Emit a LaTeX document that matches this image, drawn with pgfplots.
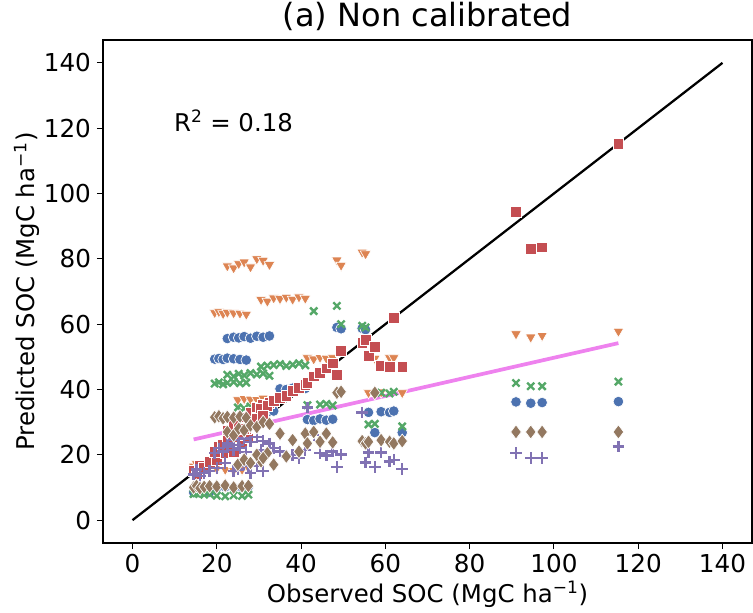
\documentclass[border=0pt]{standalone}
\usepackage{pgfplots}
\pgfplotsset{compat=1.18}
\usepackage{fontspec}
\setmainfont{DejaVu Sans}
\definecolor{sbblue}{RGB}{76,114,176}
\definecolor{sborange}{RGB}{221,132,82}
\definecolor{sbgreen}{RGB}{85,168,104}
\definecolor{sbred}{RGB}{196,78,82}
\definecolor{sbpurple}{RGB}{129,114,179}
\definecolor{sbbrown}{RGB}{147,120,96}
\definecolor{regviolet}{RGB}{238,130,238}
\begin{document}
\begin{tikzpicture}
\begin{axis}[
  width=486.75pt, height=377.25pt, scale only axis,
  xmin=-7, xmax=147, ymin=-7, ymax=147,
  xtick={0,20,...,140}, ytick={0,20,...,140},
  tick align=outside, xtick pos=bottom, ytick pos=left,
  major tick length=4.5pt,
  tick style={black, line width=0.8pt},
  axis line style={line width=0.8pt},
  /pgf/number format/assume math mode=true,
  ticklabel style={font=\fontsize{18.5}{18.5}\selectfont},
  xticklabel style={yshift=0pt},
  yticklabel style={xshift=-1pt},
  xlabel={Observed SOC (MgC ha\textsuperscript{\char"2212 1})},
  ylabel={Predicted SOC (MgC ha\textsuperscript{\char"2212 1})},
  label style={font=\fontsize{18.3}{18.3}\selectfont},
  xlabel style={at={(axis description cs:0.5,-0.076)}, anchor=north, inner sep=0pt},
  ylabel style={at={(axis description cs:-0.097,0.5)}, anchor=south, inner sep=0pt},
  title={(a) Non calibrated},
  title style={font=\fontsize{24}{24}\selectfont, at={(axis description cs:0.5,1.003)}, anchor=south, inner sep=0pt},
  every axis plot/.append style={only marks},
]
% blue circles
\addplot[mark=*, mark size=4pt, mark options={draw=white, fill=sbblue, line width=0.5pt}] coordinates {
(14.5,8.5)(15.2,8.8)(16.0,8.5)(17.0,8.7)(18.3,8.6)
(20,10)(22,10.2)(24,9.9)(26,10.1)(27.5,10.3)
(19.5,49.3)(20.5,49.5)(21.5,49.2)(22.5,49.6)(24.0,49.4)(25.5,49.2)(27.0,49.0)
(22.5,55.6)(24.0,56.0)(25.2,55.8)(26.5,56.2)(28.0,55.7)(29.5,56.3)(31.0,56.0)(32.5,56.4)
(30.5,33.5)(32.0,33.0)(33.5,33.4)(35.0,40.2)(36.5,40.0)(38.0,40.4)(39.5,40.1)(41.0,40.3)
(25.0,29.5)(26.5,29.8)(28.0,30.0)(29.5,29.6)(31.0,30.2)
(41.5,30.8)(43.0,30.5)(44.5,31.0)(46.0,30.6)(47.5,30.9)
(48.5,59.0)(49.5,58.6)
(54.5,58.7)(55.3,58.3)
(56.0,33.0)(57.5,26.8)(59.0,33.2)(61.0,33.0)(62.0,33.4)(64.0,26.8)
(91.0,36.2)(94.5,35.8)(97.2,36.0)
(115.3,36.3)
};
% orange down triangles
\addplot[mark=triangle*, mark size=4.6pt, mark options={rotate=180, draw=white, fill=sborange, line width=0.5pt}] coordinates {
(14.5,16.5)(15.2,17.2)(16.0,16.0)(17.0,16.8)(18.3,17.5)
(20,15.8)(22,15.5)(24,15.2)(26,15.5)(27.5,16.0)
(19.5,63.5)(20.5,63.8)(21.5,63.2)(22.5,63.6)(24.0,63.4)(25.5,63.3)(27.0,63.0)
(22.5,77.8)(24.0,77.2)(25.2,78.5)(26.5,79.0)(28.0,77.5)(29.5,80.0)(31.0,79.5)(32.5,78.2)
(30.5,67.5)(32.0,67.0)(33.5,68.0)(35.0,67.8)(36.5,68.2)(38.0,67.6)(39.5,68.3)(41.0,67.9)
(25.0,36.8)(26.5,37.2)(28.0,37.0)(29.5,36.9)(31.0,37.3)
(41.5,49.7)(43.0,49.3)(44.5,49.8)(46.0,49.5)(47.5,49.7)
(48.5,79.6)(49.5,78.0)
(54.5,82.0)(55.3,81.5)
(56.0,39.0)(57.5,49.5)(59.0,39.2)(61.0,49.7)(62.0,49.7)(64.0,39.0)
(91.0,57.0)(94.5,56.0)(97.2,56.5)
(115.3,57.8)
};
% green x
\addplot[mark=x, mark size=3.8pt, mark options={draw=sbgreen, line width=1.8pt}] coordinates {
(14.5,8.0)(15.2,8.2)(16.0,8.5)(17.0,7.8)(18.3,8.0)
(20,7.5)(22,7.3)(24,7.6)(26,7.4)(27.5,7.8)
(19.5,41.8)(20.5,42.2)(21.5,41.6)(22.5,42.0)(24.0,42.3)(25.5,41.9)(27.0,42.1)
(22.5,44.5)(24.0,44.0)(25.2,44.8)(26.5,44.3)(28.0,45.0)(29.5,44.6)(31.0,44.9)(32.5,44.2)
(30.5,47.0)(32.0,47.3)(33.5,47.5)(35.0,47.8)(36.5,47.2)(38.0,47.6)(39.5,48.0)(41.0,47.4)
(25.0,34.5)(26.5,34.2)(28.0,34.8)(29.5,34.4)(31.0,34.6)
(41.5,35.2)(43.0,64.0)(44.5,35.4)(46.0,35.6)(47.5,35.1)
(48.5,65.6)(49.5,60.0)
(54.5,59.5)(55.3,59.0)
(56.0,29.3)(57.5,29.5)(59.0,39.0)(61.0,38.8)(62.0,39.3)(64.0,28.7)
(91.0,42.0)(94.5,41.0)(97.2,41.0)
(115.3,42.4)
};
% red squares
\addplot[mark=square*, mark size=4pt, mark options={draw=white, fill=sbred, line width=0.5pt}] coordinates {
(14.5,15.0)(15.2,14.2)(16.0,16.8)(17.0,16.0)(18.3,17.8)
(20,18.5)(22,20.5)(24,21.0)(26,23.5)(27.5,25.0)
(19.5,21.0)(20.5,22.5)(21.5,23.0)(22.5,24.5)(24.0,25.5)(25.5,26.5)(27.0,28.0)
(22.5,27.5)(24.0,29.0)(25.2,30.0)(26.5,31.5)(28.0,33.0)(29.5,34.5)(31.0,35.5)(32.5,36.0)
(30.5,34.0)(32.0,35.0)(33.5,36.5)(35.0,37.5)(36.5,38.0)(38.0,39.5)(39.5,40.5)(41.0,41.5)
(25.0,26.0)(26.5,28.0)(28.0,29.0)(29.5,31.0)(31.0,32.0)
(41.5,42.0)(43.0,44.0)(44.5,45.0)(46.0,46.5)(47.5,48.0)
(48.5,44.5)(49.5,51.8)
(54.5,54.3)(55.3,55.2)
(56.0,50.3)(57.5,53.0)(59.0,47.3)(61.0,47.0)(62.0,61.9)(64.0,47.0)
(91.0,94.4)(94.5,83.0)(97.2,83.5)
(115.3,115.3)
};
% purple plus
\addplot[mark=+, mark size=4.3pt, mark options={draw=sbpurple, line width=1.8pt}] coordinates {
(14.5,14.0)(15.2,15.5)(16.0,13.5)(17.0,14.5)(18.3,15.0)
(20,16.0)(22,17.5)(24,15.0)(26,18.0)(27.5,16.5)
(19.5,20.5)(20.5,22.0)(21.5,21.0)(22.5,22.5)(24.0,21.5)(25.5,22.0)(27.0,20.8)
(22.5,23.5)(24.0,24.5)(25.2,23.0)(26.5,25.0)(28.0,24.0)(29.5,25.5)(31.0,24.2)(32.5,23.5)
(30.5,21.5)(32.0,20.5)(33.5,22.0)(35.0,21.0)(36.5,19.5)(38.0,20.0)(39.5,19.0)(41.0,21.5)
(25.0,15.5)(26.5,17.0)(28.0,14.5)(29.5,16.5)(31.0,15.0)
(41.5,34.5)(43.0,26.0)(44.5,20.5)(46.0,19.8)(47.5,21.0)
(48.5,16.2)(49.5,20.1)
(54.5,33.0)(55.3,17.7)
(56.0,20.7)(57.5,16.2)(59.0,20.7)(61.0,18.0)(62.0,18.5)(64.0,15.6)
(91.0,20.5)(94.5,19.0)(97.2,19.0)
(115.3,22.5)
};
% brown diamonds
\addplot[mark=diamond*, mark size=5.3pt, mark options={draw=white, fill=sbbrown, line width=0.5pt}] coordinates {
(14.5,10.0)(15.2,10.5)(16.0,9.8)(17.0,10.2)(18.3,10.4)
(20,10.3)(22,10.6)(24,10.0)(26,10.4)(27.5,10.5)
(19.5,31.5)(20.5,31.8)(21.5,31.2)(22.5,31.6)(24.0,31.4)(25.5,31.7)(27.0,31.3)
(22.5,27.0)(24.0,26.0)(25.2,28.0)(26.5,27.5)(28.0,29.0)(29.5,28.5)(31.0,30.0)(32.5,29.5)
(30.5,18.0)(32.0,20.5)(33.5,17.0)(35.0,26.5)(36.5,19.5)(38.0,24.5)(39.5,21.0)(41.0,26.5)
(25.0,17.0)(26.5,18.5)(28.0,17.5)(29.5,20.0)(31.0,19.0)
(41.5,23.5)(43.0,27.0)(44.5,24.0)(46.0,26.5)(47.5,23.8)
(48.5,39.0)(49.5,39.3)
(54.5,24.2)(55.3,23.5)
(56.0,24.0)(57.5,39.0)(59.0,24.5)(61.0,24.0)(62.0,23.5)(64.0,24.2)
(91.0,27.0)(94.5,27.0)(97.2,27.0)
(115.3,27.0)
};
% 1:1 line
\addplot[black, line width=1.7pt, no marks, sharp plot] coordinates {(0,0)(140,140)};
% regression line
\addplot[regviolet, line width=2.8pt, no marks, sharp plot] coordinates {(14.5,24.7)(115.3,54.2)};
\node[anchor=west, inner sep=0pt, font=\fontsize{18.3}{18.3}\selectfont] at (axis cs:9.8,122.3) {R\textsuperscript{2} = 0.18};
\end{axis}
\path ([shift={(-77.25pt,-51.75pt)}]current axis.south west) rectangle ([shift={(0.75pt,30pt)}]current axis.north east);
\end{tikzpicture}
\end{document}
